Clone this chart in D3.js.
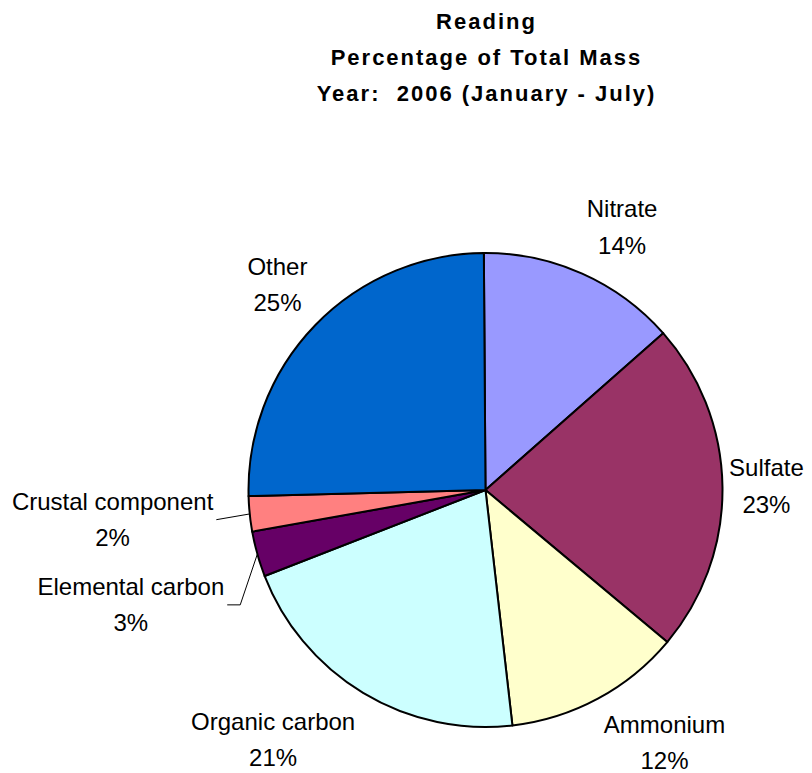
<!DOCTYPE html>
<html>
<head>
<meta charset="utf-8">
<script src="https://cdn.jsdelivr.net/npm/d3@7"></script>
<style>
  body { margin: 0; background: #fff; }
  text { font-family: "Liberation Sans", Arial, sans-serif; }
</style>
</head>
<body>
<script>
// chart data
var categories = ["Nitrate", "Sulfate", "Ammonium", "Organic carbon", "Elemental carbon", "Crustal component", "Other"];
var values = [13.6, 22.6, 12.1, 20.9, 3.1, 2.4, 25.3];
var colors = ["#9999FF", "#993366", "#FFFFCC", "#CCFFFF", "#660066", "#FF8080", "#0066CC"];
var titleLines = ["Reading", "Percentage of Total Mass", "Year:  2006 (January - July)"];

// label placement (radius from centre, angle nudge in degrees, leader line)
var labelLayout = [
  {r: 297, da: 3.3, leader: false},
  {r: 281, da: -0.2, leader: false},
  {r: 309, da: -7.1, leader: false},
  {r: 327, da: 9.4, leader: false},
  {r: 372.5, da: -2.1, leader: true},
  {r: 374, da: 1.4, leader: true},
  {r: 293, da: 0.7, leader: false}
];

var width = 812,
    height = 773,
    cx = 485.5,
    cy = 490,
    radius = 237;

var svg = d3.select("body").append("svg")
    .attr("width", width)
    .attr("height", height);

// title
svg.append("g")
    .selectAll("text")
    .data(titleLines)
    .enter().append("text")
    .attr("x", cx + 1)
    .attr("y", function(d, i) { return 28.5 + i * 36; })
    .attr("text-anchor", "middle")
    .style("font-size", "22px")
    .style("font-weight", "bold")
    .style("letter-spacing", "2px")
    .style("white-space", "pre")
    .text(function(d) { return d; });

var data = categories.map(function(c, i) {
    return {name: c, value: values[i], color: colors[i], layout: labelLayout[i]};
});

var start = -0.4 * Math.PI / 180;
var pie = d3.pie()
    .sort(null)
    .value(function(d) { return d.value; })
    .startAngle(start)
    .endAngle(start + 2 * Math.PI);

var arc = d3.arc()
    .innerRadius(0)
    .outerRadius(radius);

var arcs = pie(data);
var total = d3.sum(values);

var g = svg.append("g")
    .attr("transform", "translate(" + cx + "," + cy + ")");

g.selectAll("path")
    .data(arcs)
    .enter().append("path")
    .attr("d", arc)
    .style("fill", function(d) { return d.data.color; })
    .style("stroke", "#000")
    .style("stroke-width", 2)
    .style("stroke-linejoin", "round");

function polar(r, a) {
    return [r * Math.sin(a), -r * Math.cos(a)];
}

var fontSize = 24;

arcs.forEach(function(d) {
    var mid = (d.startAngle + d.endAngle) / 2;
    var lay = d.data.layout;
    var p = polar(lay.r, mid + lay.da * Math.PI / 180);
    var pct = Math.round(d.data.value / total * 100) + "%";

    var lbl = g.append("text")
        .attr("text-anchor", "middle")
        .style("font-size", fontSize + "px")
        .style("fill", "#000");
    lbl.append("tspan")
        .attr("x", p[0])
        .attr("y", p[1] - 9)
        .text(d.data.name);
    lbl.append("tspan")
        .attr("x", p[0])
        .attr("y", p[1] + 27.5)
        .text(pct);

    if (lay.leader) {
        var w = lbl.select("tspan").node().getComputedTextLength();
        var edge = polar(radius, mid);
        var x0 = p[0] + w / 2 + 3;
        var y0 = p[1] + 1;
        var pts = [[x0, y0], [x0 + 13, y0], edge];
        if (Math.abs(edge[1] - y0) < 10) pts = [[x0, y0], edge];
        g.append("path")
            .attr("d", d3.line()(pts))
            .style("fill", "none")
            .style("stroke", "#000")
            .style("stroke-width", 1);
    }
});
</script>
</body>
</html>
